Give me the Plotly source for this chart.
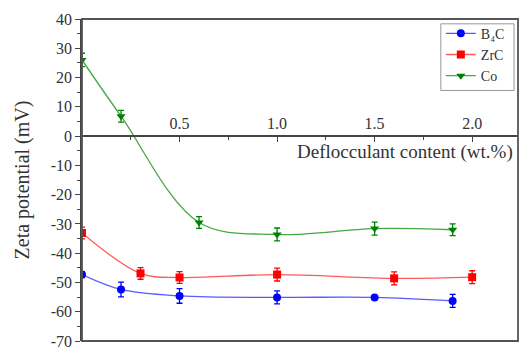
import plotly.graph_objects as go

# Data
x_b4c = [0.0, 0.2, 0.5, 1.0, 1.5, 1.9]
y_b4c = [-47.3, -52.4, -54.6, -55.1, -55.1, -56.3]
e_b4c = [1.0, 2.5, 2.5, 2.2, 0.6, 2.2]

x_zrc = [0.0, 0.3, 0.5, 1.0, 1.6, 2.0]
y_zrc = [-33.1, -46.9, -48.3, -47.3, -48.6, -48.2]
e_zrc = [2.0, 2.0, 2.0, 2.2, 2.2, 2.2]

x_co = [0.0, 0.2, 0.6, 1.0, 1.5, 1.9]
y_co = [26.0, 6.8, -29.5, -33.6, -31.6, -32.0]
e_co = [2.3, 2.0, 2.0, 2.2, 2.2, 2.0]

x_ticks = [0.5, 1.0, 1.5, 2.0]
x_labels = ["0.5", "1.0", "1.5", "2.0"]
y_ticks = [40, 30, 20, 10, 0, -10, -20, -30, -40, -50, -60, -70]
y_labels = ["40", "30", "20", "10", "0", "-10", "-20", "-30", "-40", "-50", "-60", "-70"]

FONT = "Liberation Serif"

series = [
    ("B\u2084C", x_b4c, y_b4c, e_b4c, "#0000ff", "#5a5aff", "circle"),
    ("ZrC", x_zrc, y_zrc, e_zrc, "#ff0000", "#ff5a5a", "square"),
    ("Co", x_co, y_co, e_co, "#008000", "#44a844", "triangle-down"),
]

fig = go.Figure()
for name, xs, ys, es, mc, lc, sym in series:
    fig.add_trace(go.Scatter(
        x=xs, y=ys, name=name, mode="lines+markers",
        line=dict(color=lc, width=1.3, shape="spline", smoothing=1.0),
        marker=dict(color=mc, symbol=sym, size=8),
        error_y=dict(type="data", array=es, visible=True, color=mc,
                     thickness=1.3, width=3),
    ))

fig.update_layout(
    width=521, height=353,
    margin=dict(l=82, r=3, t=19, b=10),
    paper_bgcolor="white", plot_bgcolor="white",
    font=dict(family=FONT, size=15, color="#333"),
    showlegend=True,
    legend=dict(x=0.823, y=1.004, xanchor="left", yanchor="top",
                borderwidth=0, bgcolor="rgba(0,0,0,0)",
                font=dict(family=FONT, size=14, color="#333"),
                tracegroupgap=0, itemwidth=30),
    xaxis=dict(
        range=[0, 2.235], anchor="free", position=70/110, side="top",
        tickvals=x_ticks, ticktext=x_labels, ticks="inside", ticklen=5,
        tickwidth=1.3, tickcolor="#444",
        showline=True, linecolor="#444", linewidth=1.5,
        showgrid=False, zeroline=False,
        minor=dict(dtick=0.25, tick0=0, ticks="inside", ticklen=3,
                   tickcolor="#444", tickwidth=1.2),
        tickfont=dict(family=FONT, size=16, color="#333"),
    ),
    yaxis=dict(
        range=[-70, 40], tickvals=y_ticks, ticktext=y_labels,
        ticks="outside", ticklen=5,
        tickwidth=1.3, tickcolor="#444",
        showline=True, linecolor="#444", linewidth=1.5,
        showgrid=False, zeroline=False,
        minor=dict(dtick=5, tick0=0, ticks="outside", ticklen=3,
                   tickcolor="#444", tickwidth=1.2),
        tickfont=dict(family=FONT, size=16, color="#333"),
        title=dict(text="Zeta potential (mV)",
                   font=dict(family=FONT, size=20, color="#333"),
                   standoff=16),
    ),
    shapes=[
        dict(type="rect", xref="paper", yref="paper", x0=0, x1=1,
             y0=0, y1=1, line=dict(color="#555", width=1.8), layer="above"),
        dict(type="rect", xref="paper", yref="paper", x0=0.823, x1=0.991,
             y0=0.778, y1=0.985, line=dict(color="#999", width=1),
             layer="above"),
    ],
    annotations=[dict(text="Deflocculant content (wt.%)", xref="paper",
                      yref="y", x=0.993, y=-5.6, xanchor="right",
                      yanchor="middle", showarrow=False,
                      font=dict(family=FONT, size=19, color="#333"))],
)

fig.write_html("out.html",
               config={"displayModeBar": False},
               post_script="document.body.style.margin='0';"
                           "document.body.style.overflow='hidden';")
